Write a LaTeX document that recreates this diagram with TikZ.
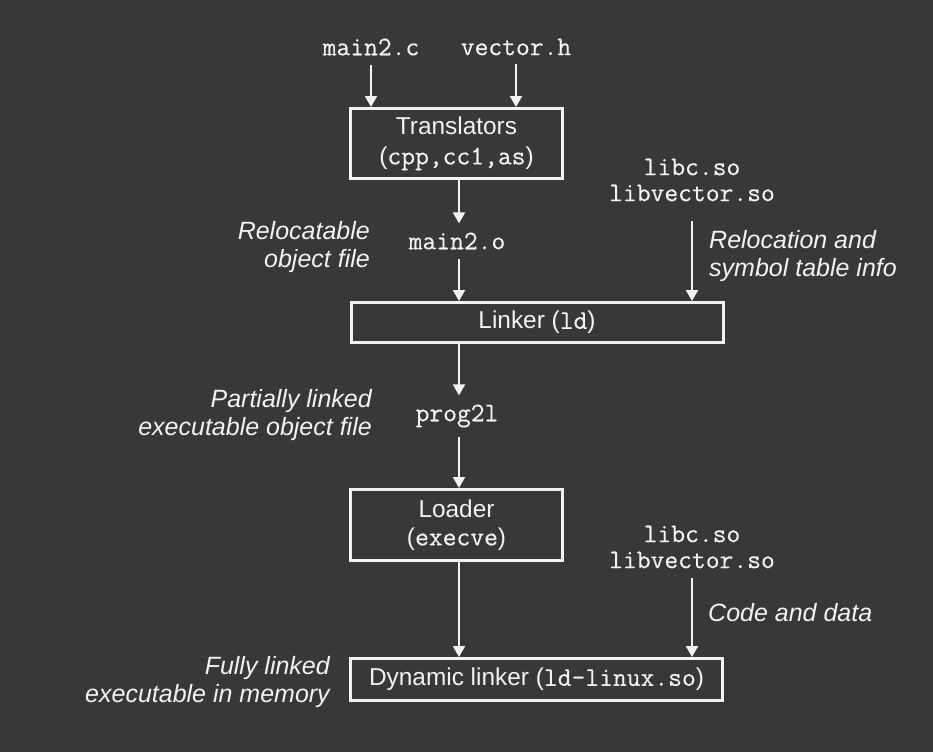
\documentclass[tikz,border=0pt]{standalone}
\usepackage{fontspec}
\setmainfont{Liberation Sans}
\setmonofont{Latin Modern Mono}[FakeBold=0.4]
\usetikzlibrary{arrows.meta}
\definecolor{bg}{HTML}{383838}
\definecolor{fg}{HTML}{F2F2F2}
\begin{document}
\begin{tikzpicture}[x=1pt,y=-1pt,
  lbl/.style={text=fg, font=\fontsize{25}{28}\selectfont\itshape, inner sep=0pt},
  file/.style={text=fg, font=\fontsize{26.8}{26}\selectfont\ttfamily, inner xsep=0pt, inner ysep=9pt, align=center},
  box/.style={draw=fg, line width=3pt, text=fg, font=\fontsize{24.4}{28}\selectfont, align=center, inner sep=0pt},
  arr/.style={draw=fg, line width=2pt, -{Triangle[width=12pt,length=11pt]}}]
\fill[bg] (0,0) rectangle (933,752);
\useasboundingbox (0,0) rectangle (933,752);

% inputs
\node[file] (mc) at (371,47) {main2.c};
\node[file] (vh) at (516,47) {vector.h};

% boxes
\node[box, minimum width=212pt, minimum height=70pt] (trans) at (456.5,143.5)
  {Translators\\[2pt](\texttt{\fontsize{26.8}{28}\selectfont cpp,cc1,as})};
\node[box, minimum width=372pt, minimum height=40pt] (linker) at (537,322.5)
  {Linker (\texttt{\fontsize{26.8}{28}\selectfont ld})};
\node[box, minimum width=212pt, minimum height=71pt] (loader) at (456.5,525)
  {Loader\\(\texttt{\fontsize{26.8}{28}\selectfont execve})};
\node[box, minimum width=372pt, minimum height=42pt] (dyn) at (536.5,679.5)
  {Dynamic linker (\texttt{\fontsize{26.8}{28}\selectfont ld-linux.so})};

% intermediate files
\node[file] (mo) at (457,241) {main2.o};
\node[file] (prog) at (457,416) {prog2l};
\node[file, inner ysep=0pt] (libsA) at (692,180) {libc.so\\libvector.so};
\node[file, inner ysep=0pt] (libsB) at (692,547) {libc.so\\libvector.so};

% labels
\node[lbl, align=right, anchor=east] (l1) at (370,247) {Relocatable\\object file};
\node[lbl, align=right, anchor=east] (l2) at (372,415) {Partially linked\\executable object file};
\node[lbl, align=right, anchor=east] (l3) at (330,682) {Fully linked\\executable in memory};
\node[lbl, align=left, anchor=west] (l4) at (709,256) {Relocation and\\symbol table info};
\node[lbl, align=left, anchor=west] (l5) at (708,613) {Code and data};

% connectors
\coordinate (colx) at (459,0);
\draw[arr] (mc.south) -- (mc.south |- trans.north);
\draw[arr] (vh.south) -- (vh.south |- trans.north);
\draw[arr] (trans.south -| colx) -- (mo.north -| colx);
\draw[arr] (mo.south -| colx) -- (linker.north -| colx);
\draw[arr] (linker.south -| colx) -- (prog.north -| colx);
\draw[arr] (prog.south -| colx) -- (loader.north -| colx);
\draw[arr] (loader.south -| colx) -- (dyn.north -| colx);
\draw[arr, shorten <=20pt] (libsA.south) -- (libsA.south |- linker.north);
\draw[arr, shorten <=10pt] (libsB.south) -- (libsB.south |- dyn.north);
\end{tikzpicture}
\end{document}
